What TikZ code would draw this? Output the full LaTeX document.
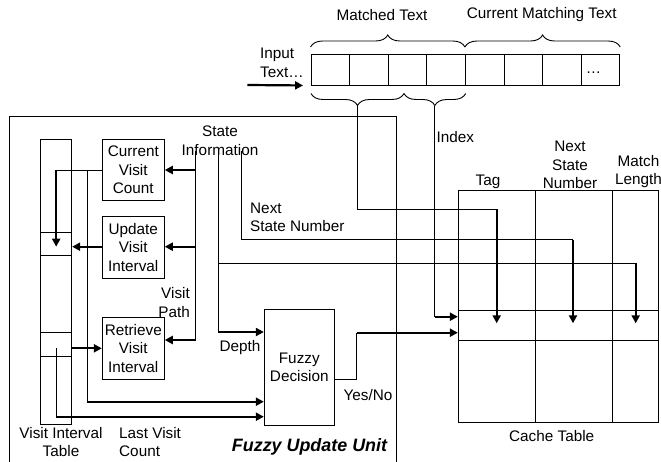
\documentclass[tikz,border=0pt]{standalone}
\usepackage{fontspec}
\setmainfont{Liberation Sans}
\usetikzlibrary{arrows.meta,decorations.pathreplacing}
\begin{document}
\begin{tikzpicture}[x=1pt,y=-1pt,
  font=\fontsize{15.3}{18.5}\selectfont,
  wire/.style={line width=0.9pt},
  fat/.style={line width=2.2pt,-{Triangle[length=8pt,width=8pt]}},
  box/.style={draw,line width=0.9pt,align=center,inner sep=0pt},
  lbl/.style={align=center,inner sep=0pt},
  tapecell/.style={draw,line width=0.9pt,minimum width=38.6pt,minimum height=31pt,inner sep=0pt},
  bracewire/.style={line width=0.9pt,decorate,decoration={brace,amplitude=12pt}}]
\useasboundingbox (0,0) rectangle (661,461);
\clip (0,0) rectangle (661,461);

% ---------- input tape ----------
\foreach \i in {1,...,8}
  \node[tapecell] (t\i) at ({311+38.6*(\i-0.5)},69.5) {};
\node[lbl] (dots) at (593.5,73) {…};
\node[lbl,align=left,anchor=west] (intext) at (260,63) {Input\\Text…};
\coordinate (inA) at (247.3,85);
\draw[fat] (inA) -- ([xshift=-7.5pt]t1.south west);

% braces
\draw[bracewire] (t1.north west |- 0,47) -- (t5.north west |- 0,47);
\draw[bracewire] (t5.north west |- 0,47) -- (t8.north east |- 0,47);
\node[lbl] (mt) at (382,15) {Matched Text};
\node[lbl] (cmt) at (541.7,15) {Current Matching Text};
\draw[bracewire,decoration={mirror}] (311,93.5) -- (404,93.5);
\draw[bracewire,decoration={mirror}] (404,93.5) -- (465.7,93.5);
\coordinate (b1) at (357.5,105.5);
\coordinate (b2) at (434.8,105.5);

% ---------- fuzzy update unit ----------
\draw[wire] (9,463) -- (9,116) -- (396,116) -- (396,463);
\node[lbl,font=\fontsize{17.9}{20}\selectfont\bfseries\itshape] (fuu) at (309.5,446.7) {Fuzzy Update Unit};

\node[box,minimum width=62pt,minimum height=61.4pt] (cvc) at (133.3,170) {Current\\Visit\\Count};
\node[box,minimum width=62pt,minimum height=61.6pt] (uvi) at (133.3,247.5) {Update\\Visit\\Interval};
\node[box,minimum width=62pt,minimum height=61.7pt] (rvi) at (133.3,348.2) {Retrieve\\Visit\\Interval};
\node[box,minimum width=70pt,minimum height=116.4pt] (fd) at (299.3,367.5) {Fuzzy\\Decision};

\node[box,minimum width=31pt,minimum height=285pt] (vit) at (56.2,282) {};
\node[box,minimum width=31pt,minimum height=23.4pt] (ca) at (56.2,244) {};
\node[box,minimum width=31pt,minimum height=23.7pt] (cb) at (56.2,344.2) {};

\node[lbl] (vitl) at (61,442) {Visit Interval\\Table};
\node[lbl,align=left,anchor=west] (lvc) at (119,442) {Last Visit\\Count};
\node[lbl] (si) at (220,140.5) {State\\Information};
\node[lbl,align=left,anchor=west] (nsn) at (250,217.5) {Next\\State Number};
\node[lbl,align=right,anchor=east] (vp) at (190,302.5) {Visit\\Path};
\node[lbl] (dep) at (240,348) {Depth};
\node[lbl] (yn) at (368,395) {Yes/No};
\node[lbl,anchor=west] (idx) at (436.5,137) {Index};

% ---------- cache table ----------
\node[draw,line width=0.9pt,minimum width=200pt,minimum height=231.6pt,inner sep=0pt] (ct) at (558.3,306.5) {};
\draw[wire] (535,190.7) -- (535,422.3);
\draw[wire] (612.3,190.7) -- (612.3,422.3);
\draw[wire] (458.3,310) -- (658.3,310);
\draw[wire] (458.3,340.7) -- (658.3,340.7);
\node[lbl] (tag) at (488,181.7) {Tag};
\node[lbl] (nsnh) at (570,165) {Next\\State\\Number};
\node[lbl] (mlh) at (638.5,171.5) {Match\\Length};
\node[lbl] (ctl) at (551.7,436) {Cache Table};

% ---------- connectors ----------
\coordinate (s1) at (195.7,151);
\coordinate (s2) at (218.3,151);
\coordinate (s3) at (241.3,151);
% state info to boxes
\draw[wire] (s1) -- (s1 |- 0,340);
\draw[fat] (s1 |- cvc.east) -- (cvc.east);
\draw[fat] (s1 |- 0,246.7) -- (uvi.east |- 0,246.7);
\draw[fat] (s1 |- 0,340) -- (rvi.east |- 0,340);
% depth
\draw[wire] (s2) -- (s2 |- 0,332);
\draw[fat] (s2 |- 0,332) -- (fd.west |- 0,332);
% match length path
\coordinate (mlT) at (635.7,263.3);
\draw[wire] (s2 |- mlT) -- (mlT);
\draw[fat] (mlT) -- (635.7,323.3);
% next state number path
\coordinate (nsT) at (573,239.5);
\draw[wire] (s3) -- (s3 |- nsT) -- (nsT);
\draw[fat] (nsT) -- (573,323.3);
% tag path
\coordinate (tagT) at (496.7,209);
\draw[wire] (b1) -- (b1 |- tagT) -- (tagT);
\draw[fat] (tagT) -- (496.7,323.3);
% index path
\coordinate (idxC) at (434.8,316.7);
\draw[wire] (b2) -- (idxC);
\draw[fat] (idxC) -- (ct.west |- idxC);
% current visit count outputs
\coordinate (cvA) at (56.2,170);
\coordinate (cvB) at (87.3,170);
\draw[wire] (cvc.west) -- (cvA);
\draw[fat] (cvA) -- (56.2,246.7);
\draw[wire] (cvB) -- (87.3,401.7);
\draw[fat] (87.3,401.7) -- (fd.west |- 0,401.7);
% update visit interval to table
\draw[fat] (uvi.west |- 0,246.7) -- (ca.east |- 0,246.7);
% table to retrieve
\draw[fat] (cb.east |- 0,348.3) -- (rvi.west |- 0,348.3);
% last visit count
\coordinate (lvA) at (56.2,348.3);
\draw[wire] (lvA) -- (56.2,416.7);
\draw[fat] (56.2,416.7) -- (fd.west |- 0,416.7);
% fuzzy decision output
\coordinate (fdA) at (356.7,379);
\coordinate (fdB) at (356.7,332.7);
\draw[wire] (fd.east |- fdA) -- (fdA) -- (fdB);
\draw[fat] (fdB) -- (ct.west |- fdB);
\end{tikzpicture}
\end{document}
